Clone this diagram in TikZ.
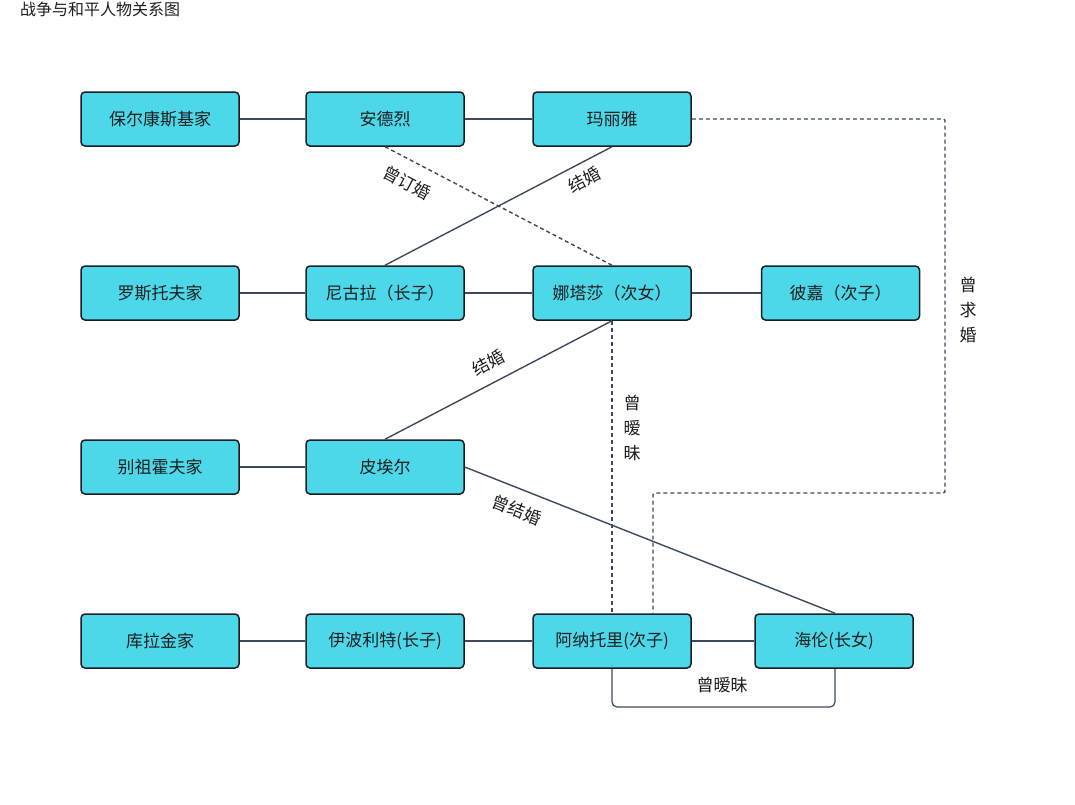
\documentclass[tikz,border=0pt]{standalone}
\usepackage{fontspec}
\setmainfont{Noto Sans CJK SC}
\usetikzlibrary{calc}
\definecolor{boxfill}{RGB}{77,216,234}
\definecolor{boxline}{RGB}{25,30,36}
\definecolor{linkc}{RGB}{62,74,92}
\definecolor{txt}{RGB}{30,30,30}
\tikzset{
  person/.style={draw=boxline, line width=1.5pt, fill=boxfill, rounded corners=4pt,
    minimum width=158pt, minimum height=54pt, inner sep=0pt, text=txt,
    font=\fontsize{17}{20}\selectfont},
  link/.style={draw=linkc, line width=1.4pt},
  dlink/.style={draw=linkc, line width=1.4pt, dash pattern=on 4pt off 3pt},
  lbl/.style={text=txt, font=\fontsize{17}{20}\selectfont, inner sep=0pt},
  vlbl/.style={text=txt, font=\fontsize{17}{25}\selectfont, inner sep=0pt, align=center},
}
\begin{document}
\begin{tikzpicture}[x=1pt,y=-1pt]
\useasboundingbox (0,0) rectangle (1075,804);
\fill[white] (0,0) rectangle (1075,804);
\node[anchor=west, text=txt, font=\fontsize{16}{18}\selectfont, inner sep=0pt] (title) at (20,9) {战争与和平人物关系图};

\node[person] (pk) at (160,119) {保尔康斯基家};
\node[person] (ad) at (385,119) {安德烈};
\node[person] (mly) at (612,119) {玛丽雅};

\node[person] (lst) at (160,293) {罗斯托夫家};
\node[person] (ngl) at (385,293) {尼古拉（长子）};
\node[person] (nts) at (612,293) {娜塔莎（次女）};
\node[person] (bj) at (840.5,293) {彼嘉（次子）};

\node[person] (bzh) at (160,467) {别祖霍夫家};
\node[person] (pae) at (385,467) {皮埃尔};

\node[person] (klj) at (160,641) {库拉金家};
\node[person] (ybl) at (385,641) {伊波利特(长子)};
\node[person] (aln) at (612,641) {阿纳托里(次子)};
\node[person] (hl) at (834,641) {海伦(长女)};

\coordinate (c1) at (945,493);
\coordinate (c2) at ([xshift=41pt]aln.north);
\coordinate (c3) at (612,707);
\coordinate (c4) at (835,707);

% row links
\draw[link] (pk) -- (ad);
\draw[link] (ad) -- (mly);
\draw[link] (lst) -- (ngl);
\draw[link] (ngl) -- (nts);
\draw[link] (nts) -- (bj);
\draw[link] (bzh) -- (pae);
\draw[link] (klj) -- (ybl);
\draw[link] (ybl) -- (aln);
\draw[link] (aln) -- (hl);

% relations
\draw[dlink] (ad.south) -- (nts.north);
\draw[link] (mly.south) -- (ngl.north);
\draw[link] (nts.south) -- (pae.north);
\draw[dlink] (nts.south) -- (aln.north);
\draw[dlink, rounded corners=2pt] (mly.east) -| (c1) -| (c2);
\draw[link] (pae.east) -- ([xshift=1pt]hl.north);
\draw[link, line width=1.2pt, rounded corners=5pt] (aln.south) -- (c3) -- (c4) -- ([xshift=1pt]hl.south);

% labels
\node[lbl, rotate=-28] (l1) at (407,183) {曾订婚};
\node[lbl, rotate=28] (l2) at (584,180) {结婚};
\node[lbl, rotate=28] (l3) at (488,363) {结婚};
\node[vlbl] (l4) at (632,428) {曾\\暧\\昧};
\node[vlbl] (l5) at (968,310) {曾\\求\\婚};
\node[lbl, rotate=-22] (l6) at (517,510) {曾结婚};
\node[lbl] (l7) at (722,685) {曾暧昧};
\end{tikzpicture}
\end{document}
